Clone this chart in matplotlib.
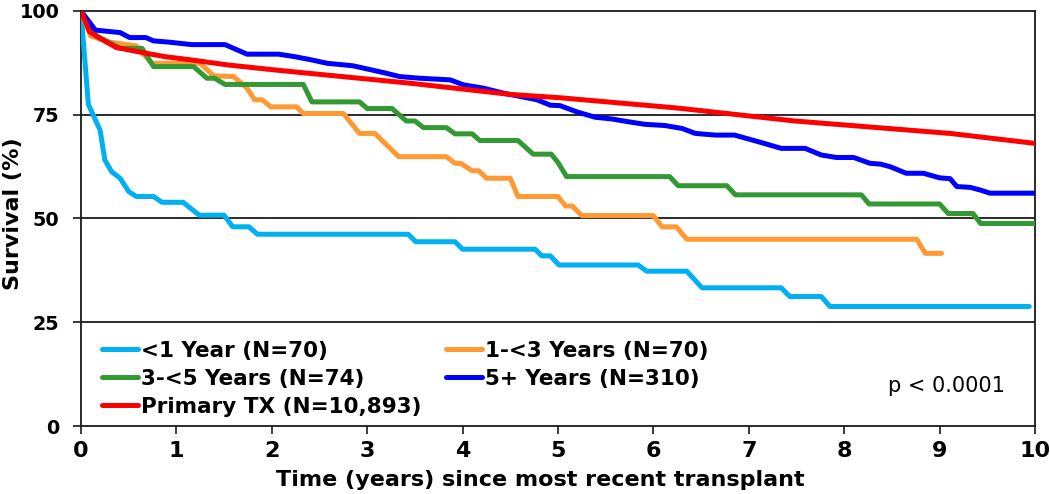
import matplotlib
matplotlib.use("Agg")
import matplotlib.pyplot as plt

# ---------------- data ----------------
labels = ["<1 Year (N=70)", "1-<3 Years (N=70)", "3-<5 Years (N=74)",
          "5+ Years (N=310)", "Primary TX (N=10,893)"]
colors = ["#00B0F0", "#FF9933", "#339933", "#0000FF", "#FF0000"]

t_lt1 = [0, 0.077, 0.20, 0.25, 0.32, 0.41, 0.50, 0.58, 0.76, 0.85, 1.07, 1.24, 1.50,
         1.59, 1.76, 1.85, 3.43, 3.51, 3.92, 4.00, 4.76, 4.83, 4.92, 5.01, 5.84, 5.93,
         6.35, 6.51, 7.34, 7.43, 7.76, 7.85, 9.94]
s_lt1 = [100, 77.5, 71.3, 64.1, 61.3, 59.7, 56.5, 55.3, 55.3, 53.9, 53.9, 50.8, 50.8,
         48.0, 48.0, 46.2, 46.2, 44.4, 44.4, 42.6, 42.6, 41.0, 41.0, 38.8, 38.8, 37.3,
         37.3, 33.3, 33.3, 31.2, 31.2, 28.8, 28.8]

t_1to3 = [0, 0.10, 0.30, 0.58, 0.66, 0.74, 1.25, 1.39, 1.60, 1.74, 1.82, 1.90, 1.99,
          2.26, 2.33, 2.75, 2.92, 3.08, 3.33, 3.83, 3.92, 3.98, 4.10, 4.17, 4.25, 4.50,
          4.58, 5.00, 5.08, 5.15, 5.25, 6.00, 6.09, 6.24, 6.35, 8.76, 8.85, 9.02]
s_1to3 = [100, 94.0, 92.5, 91.6, 89.5, 87.4, 87.4, 84.4, 84.2, 81.4, 78.6, 78.6, 76.9,
          76.9, 75.3, 75.3, 70.5, 70.5, 64.9, 64.9, 63.3, 63.3, 61.5, 61.5, 59.7, 59.7,
          55.3, 55.3, 53.0, 53.0, 50.7, 50.7, 48.0, 48.0, 45.0, 45.0, 41.6, 41.6]

t_3to5 = [0, 0.15, 0.41, 0.64, 0.76, 1.18, 1.32, 1.40, 1.51, 2.33, 2.42, 2.92, 3.00,
          3.26, 3.41, 3.50, 3.59, 3.83, 3.92, 4.10, 4.18, 4.58, 4.74, 4.93, 5.00, 5.09,
          6.17, 6.26, 6.77, 6.86, 8.18, 8.26, 9.00, 9.09, 9.35, 9.43, 10.0]
s_3to5 = [100, 94.2, 91.0, 91.0, 86.6, 86.6, 83.8, 83.8, 82.3, 82.3, 78.1, 78.1, 76.5,
          76.5, 73.5, 73.5, 71.9, 71.9, 70.4, 70.4, 68.8, 68.8, 65.5, 65.5, 63.5, 60.1,
          60.1, 57.9, 57.9, 55.7, 55.7, 53.5, 53.5, 51.2, 51.2, 48.8, 48.8]

t_5plus = [0, 0.15, 0.41, 0.51, 0.68, 0.76, 0.92, 1.16, 1.51, 1.74, 2.07, 2.24, 2.42,
           2.58, 2.85, 3.20, 3.34, 3.55, 3.87, 4.01, 4.22, 4.43, 4.78, 4.92, 5.02, 5.21,
           5.39, 5.56, 5.74, 5.91, 6.12, 6.30, 6.44, 6.65, 6.85, 7.10, 7.34, 7.59, 7.76,
           7.92, 8.10, 8.27, 8.38, 8.48, 8.65, 8.83, 9.00, 9.11, 9.18, 9.32, 9.42, 9.53,
           10.0]
s_5plus = [100, 95.4, 94.8, 93.6, 93.6, 92.8, 92.5, 91.9, 91.9, 89.6, 89.6, 89.0, 88.2,
           87.4, 86.8, 85.0, 84.2, 83.8, 83.4, 82.2, 81.4, 80.2, 78.6, 77.3, 77.2, 75.6,
           74.4, 74.0, 73.3, 72.7, 72.4, 71.7, 70.5, 70.1, 70.1, 68.5, 66.9, 66.9, 65.3,
           64.7, 64.7, 63.3, 63.1, 62.5, 60.9, 60.9, 59.8, 59.6, 57.7, 57.5, 56.9, 56.1,
           56.1]

t_primary = [0, 0.09, 0.20, 0.37, 0.64, 0.88, 1.16, 1.54, 2.03, 2.56, 3.45, 4.50, 5.02,
             6.26, 7.48, 9.11, 10.0]
s_primary = [100, 95.0, 93.4, 91.2, 90.0, 89.0, 88.2, 87.0, 85.8, 84.6, 82.6, 79.9, 79.1,
             76.6, 73.5, 70.5, 68.1]

x_ticks = list(range(0, 11))
y_ticks = [0, 25, 50, 75, 100]
x_label = "Time (years) since most recent transplant"
y_label = "Survival (%)"
p_text = "p < 0.0001"

# ---------------- plotting ----------------
plt.rcParams["font.family"] = ["DejaVu Sans"]

W, H = 1050, 494
fig = plt.figure(figsize=(W / 100, H / 100), dpi=100)
ax = fig.add_axes([81 / W, 1 - 426 / H, (1035 - 81) / W, (426 - 11) / H])

series = [(t_lt1, s_lt1), (t_1to3, s_1to3), (t_3to5, s_3to5),
          (t_5plus, s_5plus), (t_primary, s_primary)]
lines = []
for (t, s), c, lab in zip(series, colors, labels):
    ln, = ax.plot(t, s, color=c, lw=3.6, solid_joinstyle="round",
                  solid_capstyle="round", label=lab, zorder=3)
    lines.append(ln)

ax.set_xlim(0, 10)
ax.set_ylim(0, 100)
ax.set_xticks(x_ticks)
ax.set_yticks(y_ticks)
for v in y_ticks[1:-1]:
    ax.axhline(v, color="#1a1a1a", lw=1.3, zorder=1)
for sp in ax.spines.values():
    sp.set_color("#1a1a1a")
    sp.set_linewidth(1.3)

ax.tick_params(axis="x", direction="out", length=5.5, width=1.2, pad=5.5,
               labelsize=16, color="#1a1a1a")
ax.tick_params(axis="y", direction="out", length=5.5, width=1.2, pad=10,
               labelsize=13.8, color="#1a1a1a")
for lbl in ax.get_xticklabels() + ax.get_yticklabels():
    lbl.set_fontweight("bold")

ax.set_xlabel(x_label, fontsize=16, fontweight="bold")
ax.set_ylabel(y_label, fontsize=16, fontweight="bold")
ax.xaxis.set_label_coords(0.481, -0.107)
ax.yaxis.set_label_coords(-0.0608, 0.511)

order = [0, 2, 4, 1, 3]
leg = ax.legend([lines[i] for i in order], [labels[i] for i in order],
                ncol=2, loc="upper left", bbox_to_anchor=(0.022, 0.206),
                frameon=False, borderpad=0, borderaxespad=0,
                handlelength=1.67, handletextpad=0.12, labelspacing=0.38,
                columnspacing=1.16, prop={"size": 15.5, "weight": "bold"})
for h in leg.legend_handles:
    h.set_linewidth(3.6)

ax.text(9.68, 9.7, p_text, ha="right", va="center", fontsize=15)

fig.savefig("out.png", dpi=100)
